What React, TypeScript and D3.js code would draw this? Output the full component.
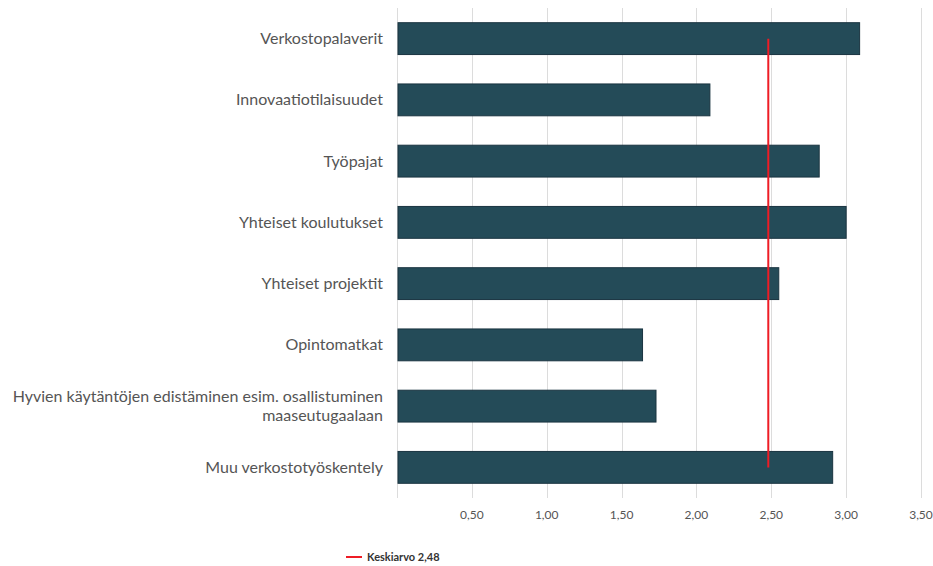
import { useEffect, useRef } from 'react';
import * as d3 from 'd3';

const categories = [
  'Verkostopalaverit',
  'Innovaatiotilaisuudet',
  'Työpajat',
  'Yhteiset koulutukset',
  'Yhteiset projektit',
  'Opintomatkat',
  'Hyvien käytäntöjen edistäminen esim. osallistuminen maaseutugaalaan',
  'Muu verkostotyöskentely'
];
const values = [3.09, 2.09, 2.82, 3.0, 2.55, 1.64, 1.73, 2.91];
const average = 2.48;
const ticks = [0.5, 1, 1.5, 2, 2.5, 3, 3.5];
const labelLines: Record<string, string[]> = {
  'Hyvien käytäntöjen edistäminen esim. osallistuminen maaseutugaalaan': [
    'Hyvien käytäntöjen edistäminen esim. osallistuminen',
    'maaseutugaalaan'
  ]
};

const fmt = (v: number) => v.toFixed(2).replace('.', ',');

export default function App() {
  const ref = useRef<SVGSVGElement | null>(null);

  useEffect(() => {
    if (!ref.current) return;
    const svg = d3.select(ref.current);
    svg.selectAll('*').remove();

    const left = 397;
    const top = 8;
    const plotBottom = 498;

    const x = d3.scaleLinear().domain([0, 3.5]).range([left, 921]);
    const y = d3
      .scaleBand()
      .domain(categories)
      .range([top, plotBottom])
      .paddingInner(0.48)
      .paddingOuter(0.24);

    const g = svg.append('g');

    // gridlines
    g.selectAll('line.grid')
      .data([0, ...ticks])
      .enter()
      .append('line')
      .attr('class', 'grid')
      .attr('x1', (d) => Math.round(x(d)) + 0.5)
      .attr('x2', (d) => Math.round(x(d)) + 0.5)
      .attr('y1', top)
      .attr('y2', plotBottom)
      .attr('stroke', '#dcdcdc')
      .attr('stroke-width', 1);

    // tick labels
    g.selectAll('text.tick')
      .data(ticks)
      .enter()
      .append('text')
      .attr('x', (d) => x(d))
      .attr('y', 519)
      .attr('text-anchor', 'middle')
      .style('font-family', 'Lato, sans-serif')
      .style('font-size', '12px')
      .attr('fill', '#555')
      .text((d) => fmt(d));

    // bars
    g.selectAll('rect.bar')
      .data(categories)
      .enter()
      .append('rect')
      .attr('class', 'bar')
      .attr('x', x(0) + 1)
      .attr('y', (d) => y(d) || 0)
      .attr('width', (d, i) => x(values[i]) - x(0) - 1)
      .attr('height', y.bandwidth())
      .attr('fill', '#244b58')
      .attr('stroke', '#1a3440')
      .attr('stroke-width', 1);

    // category labels
    categories.forEach((c) => {
      const lines = labelLines[c] || [c];
      const cy = (y(c) || 0) + y.bandwidth() / 2;
      const lh = 19;
      lines.forEach((line, j) => {
        g.append('text')
          .attr('x', 383)
          .attr('y', cy + (j - (lines.length - 1) / 2) * lh)
          .attr('dy', '0.35em')
          .attr('text-anchor', 'end')
          .style('font-family', 'Lato, sans-serif')
          .style('font-size', '16px')
          .attr('fill', '#555')
          .text(line);
      });
    });

    // average line
    const first = categories[0];
    const last = categories[categories.length - 1];
    g.append('line')
      .attr('x1', x(average))
      .attr('x2', x(average))
      .attr('y1', (y(first) || 0) + y.bandwidth() / 2)
      .attr('y2', (y(last) || 0) + y.bandwidth() / 2)
      .attr('stroke', '#ee1c25')
      .attr('stroke-width', 2);

    // legend
    const legend = svg.append('g').attr('transform', 'translate(346, 557)');
    legend
      .append('line')
      .attr('x1', 0)
      .attr('x2', 16)
      .attr('y1', 0)
      .attr('y2', 0)
      .attr('stroke', '#ee1c25')
      .attr('stroke-width', 2);
    legend
      .append('text')
      .attr('x', 21)
      .attr('y', 0)
      .attr('dy', '0.35em')
      .style('font-family', 'Lato, sans-serif')
      .style('font-size', '11px')
      .style('font-weight', 'bold')
      .attr('fill', '#333')
      .text(`Keskiarvo ${fmt(average)}`);
  }, []);

  return (
    <svg
      ref={ref}
      width={933}
      height={566}
      style={{ position: 'absolute', left: 0, top: 0, background: '#fff' }}
    />
  );
}
